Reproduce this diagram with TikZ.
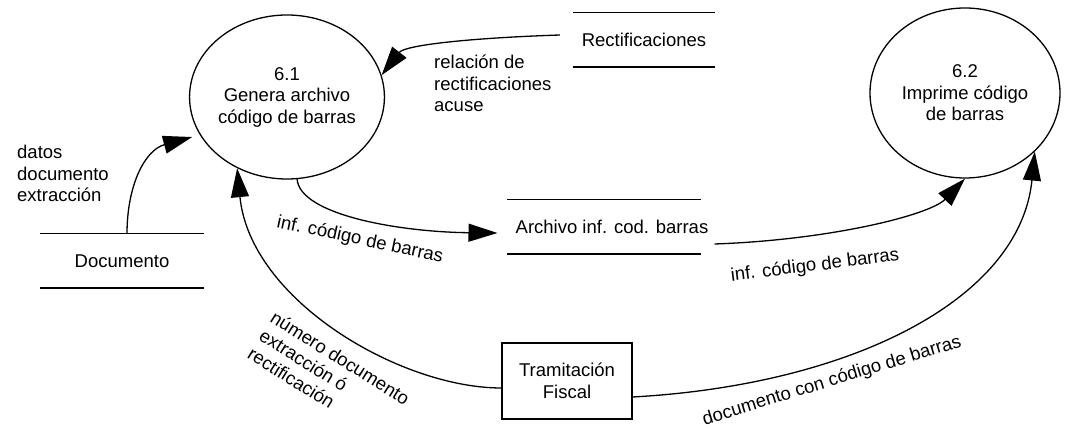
\documentclass[tikz,border=0pt]{standalone}
\usepackage{fontspec}
\setmainfont{Liberation Sans}
\usetikzlibrary{shapes.geometric,arrows.meta}
\begin{document}
\begin{tikzpicture}[x=1pt,y=-1pt,
  every node/.style={font=\fontsize{18.5}{21.5}\selectfont},
  proc/.style={draw,ellipse,line width=1.3pt,minimum width=190pt,minimum height=164pt,align=center,inner sep=0pt},
  store/.style={minimum height=54pt,inner sep=0pt},
  sline/.style={line width=1.4pt},
  ext/.style={draw,line width=1.3pt,minimum width=130pt,minimum height=76pt,align=center,inner sep=0pt},
  flow/.style={line width=1.3pt,-{Triangle[length=29pt,width=18pt]}},
  lbl/.style={inner sep=0pt}]
\useasboundingbox (0,0) rectangle (1066,430);
\node[proc] (p61) at (287,97) {6.1\\Genera archivo\\código de barras};
\node[proc,minimum height=170pt] (p62) at (965,93) {6.2\\Imprime código\\de barras};
\node[store,minimum width=142pt] (rect) at (644,40) {Rectificaciones};
\node[store,minimum width=192pt] (arch) at (612,227) {Archivo inf. cod. barras};
\node[store,minimum width=163pt] (doc) at (122,261) {Documento};
\node[ext] (tram) at (567,381) {Tramitación\\Fiscal};
\foreach \s in {rect,doc}{
  \draw[sline] (\s.north west) -- (\s.north east);
  \draw[sline] (\s.south west) -- (\s.south east);
}
\draw[sline] ([xshift=-8pt]arch.north west) -- ([xshift=-8pt]arch.north east);
\draw[sline] ([xshift=-8pt]arch.south west) -- ([xshift=-8pt]arch.south east);
% flows
\draw[flow] ([xshift=-13pt,yshift=5pt]rect.west) .. controls (470,38) and (405,45) .. (p61.13);
\draw[flow] ([xshift=5pt]doc.north) .. controls (127,185) and (145,150) .. ([xshift=-9pt]p61.205);
\draw[flow] (p61.277) .. controls (300,215) and (400,232) .. ([xshift=-18pt,yshift=-6pt]arch.west);
\draw[flow] ([xshift=6pt,yshift=-17pt]arch.east) .. controls (830,240) and (930,215) .. (p62.270);
\draw[flow] ([yshift=-7pt]tram.west) .. controls (400,388) and (250,300) .. (p61.235);
\draw[flow] ([yshift=-16pt]tram.east) .. controls (850,385) and (1020,300) .. (p62.320);
% labels
\node[lbl,anchor=north west,align=left] (lrel) at (434,55) {relación de\\rectificaciones\\acuse};
\node[lbl,anchor=north west,align=left] (ldat) at (17,145) {datos\\documento\\extracción};
\node[lbl,rotate=-12] (linf1) at (360,240) {inf. código de barras};
\node[lbl,rotate=7] (linf2) at (815,266) {inf. código de barras};
\node[lbl,rotate=-32,align=left] (lnum) at (329,376) {número documento\\extracción ó\\rectificación};
\node[lbl,rotate=17] (ldoc) at (832,381) {documento con código de barras};
\end{tikzpicture}
\end{document}
